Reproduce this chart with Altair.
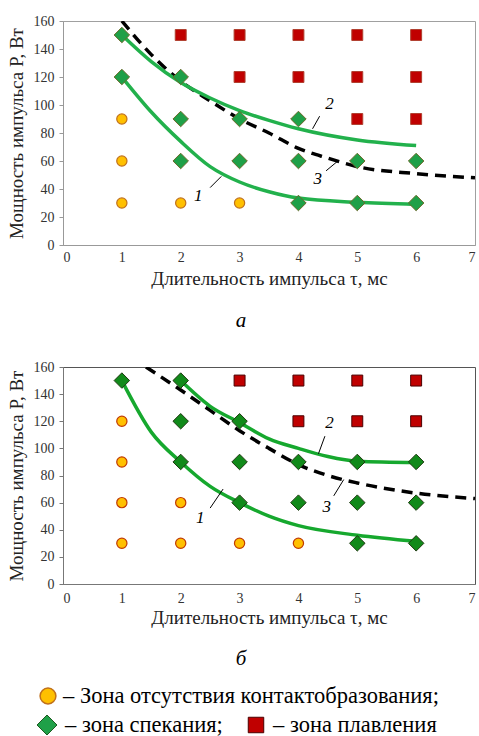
import altair as alt
import pandas as pd

FONT = "Liberation Serif, Times New Roman, serif"

# ---------------- panel "а" ----------------
a_tau = [1]*5 + [2]*5 + [3]*5 + [4]*5 + [5]*5 + [6]*5
a_P = [30, 60, 90, 120, 150] * 6
a_zone = ["none", "none", "none", "sinter", "sinter",
          "none", "sinter", "sinter", "sinter", "melt",
          "none", "sinter", "sinter", "melt", "melt",
          "sinter", "sinter", "sinter", "melt", "melt",
          "sinter", "sinter", "melt", "melt", "melt",
          "sinter", "sinter", "melt", "melt", "melt"]

a_c1_tau = [1, 1.5, 2, 2.5, 3, 3.5, 4, 5, 6]
a_c1_P = [120, 95, 74, 56, 45, 38, 33.5, 30.5, 29]
a_c2_tau = [1, 1.5, 2, 2.5, 3, 3.5, 4, 5, 6]
a_c2_P = [150, 131, 116, 105, 96, 89, 83, 75, 71]
a_c3_tau = [1, 1.5, 2, 2.5, 3, 3.5, 4, 4.5, 5, 6, 7]
a_c3_P = [160, 136, 117, 103, 90, 80, 69, 62, 56, 51, 48]

a_lab = ["1", "2", "3"]
a_lab_tau = [2.3, 4.53, 4.33]
a_lab_P = [35, 101, 47]
a_lead_tau = [2.5, 4.36, 4.47]
a_lead_P = [41, 92, 53]
a_lead_tau2 = [2.69, 4.24, 4.67]
a_lead_P2 = [49, 83, 60]

# ---------------- panel "б" ----------------
b_tau = [1]*5 + [2]*5 + [3]*5 + [4]*5 + [5]*5 + [6]*5
b_P = [30, 60, 90, 120, 150] * 6
b_zone = ["none", "none", "none", "none", "sinter",
          "none", "none", "sinter", "sinter", "sinter",
          "none", "sinter", "sinter", "sinter", "melt",
          "none", "sinter", "sinter", "melt", "melt",
          "sinter", "sinter", "sinter", "melt", "melt",
          "sinter", "sinter", "sinter", "melt", "melt"]

b_c1_tau = [1, 1.5, 2, 2.5, 3, 3.5, 4, 5, 6]
b_c1_P = [150, 112, 90, 72, 60, 50, 43, 36, 31.5]
b_c2_tau = [2, 2.5, 3, 3.5, 4, 4.5, 5, 6]
b_c2_P = [150, 131, 119, 107, 100, 94, 90.5, 89.5]
b_c3_tau = [1.41, 2, 2.5, 3, 3.5, 4, 4.5, 5, 6, 7]
b_c3_P = [160, 143, 128, 113, 100, 88, 80, 74.5, 67, 63]

b_lab = ["1", "2", "3"]
b_lab_tau = [2.33, 4.53, 4.48]
b_lab_P = [49, 119, 57]
b_lead_tau = [2.5, 4.45, 4.6]
b_lead_P = [56, 109, 65]
b_lead_tau2 = [2.72, 4.34, 4.77]
b_lead_P2 = [70, 96, 77]

# ---------------- legend ----------------
leg_labels = ["– Зона отсутствия контактобразования;", "– зона спекания;", "– зона плавления"]

X_TITLE = "Длительность импульса τ, мс"
Y_TITLE = "Мощность импульса P, Вт"


def panel(pt_tau, pt_P, pt_zone, c1, c2, c3, lab, leads, w, h, sty, title):
    pts = pd.DataFrame({"tau": pt_tau, "P": pt_P, "zone": pt_zone})
    solid = pd.concat([
        pd.DataFrame({"tau": c1[0], "P": c1[1], "curve": "1"}),
        pd.DataFrame({"tau": c2[0], "P": c2[1], "curve": "2"}),
    ])
    dash = pd.DataFrame({"tau": c3[0], "P": c3[1]})
    labs = pd.DataFrame({"lab": lab[0], "tau": lab[1], "P": lab[2]})
    lds = pd.DataFrame({"tau": leads[0], "P": leads[1], "tau2": leads[2], "P2": leads[3]})

    x = alt.X("tau:Q", scale=alt.Scale(domain=[0, 7], nice=False),
              axis=alt.Axis(values=list(range(8)), title=X_TITLE, grid=False,
                            ticks=False, labelPadding=sty["xlp"], titlePadding=sty["xtp"],
                            domainColor=sty["axis"], labelFont=FONT, titleFont=FONT,
                            labelFontSize=14, titleFontSize=19, labelColor="#333",
                            titleColor="#222", titleFontWeight="normal"))
    y = alt.Y("P:Q", scale=alt.Scale(domain=[0, 160], nice=False),
              axis=alt.Axis(values=list(range(0, 161, 20)), title=Y_TITLE, grid=False,
                            tickSize=4, tickColor=sty["axis"], labelPadding=5,
                            titlePadding=7, domainColor=sty["axis"], labelFont=FONT,
                            titleFont=FONT, labelFontSize=14, titleFontSize=19,
                            labelColor="#333", titleColor="#222",
                            titleFontWeight="normal"))

    line_solid = alt.Chart(solid).mark_line(
        interpolate="monotone", color=sty["line"], strokeWidth=3.5
    ).encode(x=x, y=y, detail="curve:N")
    line_dash = alt.Chart(dash).mark_line(
        interpolate="monotone", color="black", strokeWidth=3.5, strokeDash=[11, 7], clip=True
    ).encode(x=x, y=y)

    p_none = alt.Chart(pts).transform_filter(alt.datum.zone == "none").mark_point(
        shape="circle", filled=True, size=105, fill="#FFC000",
        stroke=sty["circ_stroke"], strokeWidth=1.2, opacity=1
    ).encode(x=x, y=y)
    p_sint = alt.Chart(pts).transform_filter(alt.datum.zone == "sinter").mark_point(
        shape="diamond", filled=True, size=240, fill=sty["diam"],
        stroke=sty["diam_stroke"], strokeWidth=1, opacity=1
    ).encode(x=x, y=y)
    p_melt = alt.Chart(pts).transform_filter(alt.datum.zone == "melt").mark_point(
        shape="square", filled=True, size=120, fill="#C00000",
        stroke=sty["sq_stroke"], strokeWidth=1, opacity=1
    ).encode(x=x, y=y)

    leaders = alt.Chart(lds).mark_rule(color="black", strokeWidth=1).encode(
        x=x, y=y, x2="tau2:Q", y2="P2:Q")
    texts = alt.Chart(labs).mark_text(
        font=FONT, fontSize=17, fontStyle="italic", color="black"
    ).encode(x=x, y=y, text="lab:N")

    return alt.layer(line_dash, line_solid, p_none, p_sint, p_melt, leaders, texts).properties(
        width=w, height=h,
        view=alt.ViewBackground(stroke=sty["frame"], strokeWidth=1),
        title=title,
    )


sty_a = {"axis": "#999999", "frame": "#a0a0a0", "line": "#22B14C", "circ_stroke": "#C0701A",
         "diam": "#1FA048", "diam_stroke": "#6B6A2A", "sq_stroke": "#B04030",
         "xlp": 5, "xtp": 5}
sty_b = {"axis": "#777777", "frame": "#555555", "line": "#16A82E", "circ_stroke": "#C03A00",
         "diam": "#118A1A", "diam_stroke": "#1E3A10", "sq_stroke": "#4A0000",
         "xlp": 7, "xtp": 3}

title_a = alt.TitleParams("а", orient="bottom", anchor="middle", frame="bounds",
                          font=FONT, fontSize=21, fontStyle="italic", fontWeight="normal",
                          color="black", offset=22, subtitle=" ", subtitleFontSize=12,
                          subtitlePadding=2)
title_b = alt.TitleParams("б", orient="bottom", anchor="middle", frame="bounds",
                          font=FONT, fontSize=21, fontStyle="italic", fontWeight="normal",
                          color="black", offset=21)

chart_a = panel(a_tau, a_P, a_zone, (a_c1_tau, a_c1_P), (a_c2_tau, a_c2_P), (a_c3_tau, a_c3_P),
                (a_lab, a_lab_tau, a_lab_P), (a_lead_tau, a_lead_P, a_lead_tau2, a_lead_P2),
                412, 224, sty_a, title_a)
chart_b = panel(b_tau, b_P, b_zone, (b_c1_tau, b_c1_P), (b_c2_tau, b_c2_P), (b_c3_tau, b_c3_P),
                (b_lab, b_lab_tau, b_lab_P), (b_lead_tau, b_lead_P, b_lead_tau2, b_lead_P2),
                412, 217, sty_b, title_b)

leg_df = pd.DataFrame({"label": leg_labels})
leg_base = alt.Chart(leg_df)
LFS = 22.5
leg = alt.layer(
    leg_base.transform_filter(alt.datum.label == leg_labels[0]).mark_point(
        shape="circle", filled=True, size=250, fill="#FFC000", stroke="#C0701A",
        strokeWidth=1.5, opacity=1).encode(x=alt.value(-15), y=alt.value(12)),
    leg_base.transform_filter(alt.datum.label == leg_labels[0]).mark_text(
        align="left", baseline="middle", font=FONT, fontSize=LFS, color="black").encode(
        x=alt.value(0), y=alt.value(12), text="label:N"),
    leg_base.transform_filter(alt.datum.label == leg_labels[1]).mark_point(
        shape="diamond", filled=True, size=400, fill="#1FA048", stroke="#1E5A20",
        strokeWidth=1, opacity=1).encode(x=alt.value(-16), y=alt.value(41)),
    leg_base.transform_filter(alt.datum.label == leg_labels[1]).mark_text(
        align="left", baseline="middle", font=FONT, fontSize=LFS, color="black").encode(
        x=alt.value(2), y=alt.value(41), text="label:N"),
    leg_base.transform_filter(alt.datum.label == leg_labels[2]).mark_point(
        shape="square", filled=True, size=240, fill="#C00000", stroke="#4A0000",
        strokeWidth=1, opacity=1).encode(x=alt.value(193), y=alt.value(41)),
    leg_base.transform_filter(alt.datum.label == leg_labels[2]).mark_text(
        align="left", baseline="middle", font=FONT, fontSize=LFS, color="black").encode(
        x=alt.value(210), y=alt.value(41), text="label:N"),
).properties(width=380, height=50, view=alt.ViewBackground(stroke=None))

chart = alt.vconcat(chart_a, chart_b, leg, spacing=14).properties(
    padding={"left": 6, "top": 13, "right": 0, "bottom": 0}
).configure(background="white")

chart.save("out.html", embed_options={"renderer": "svg", "actions": False})
